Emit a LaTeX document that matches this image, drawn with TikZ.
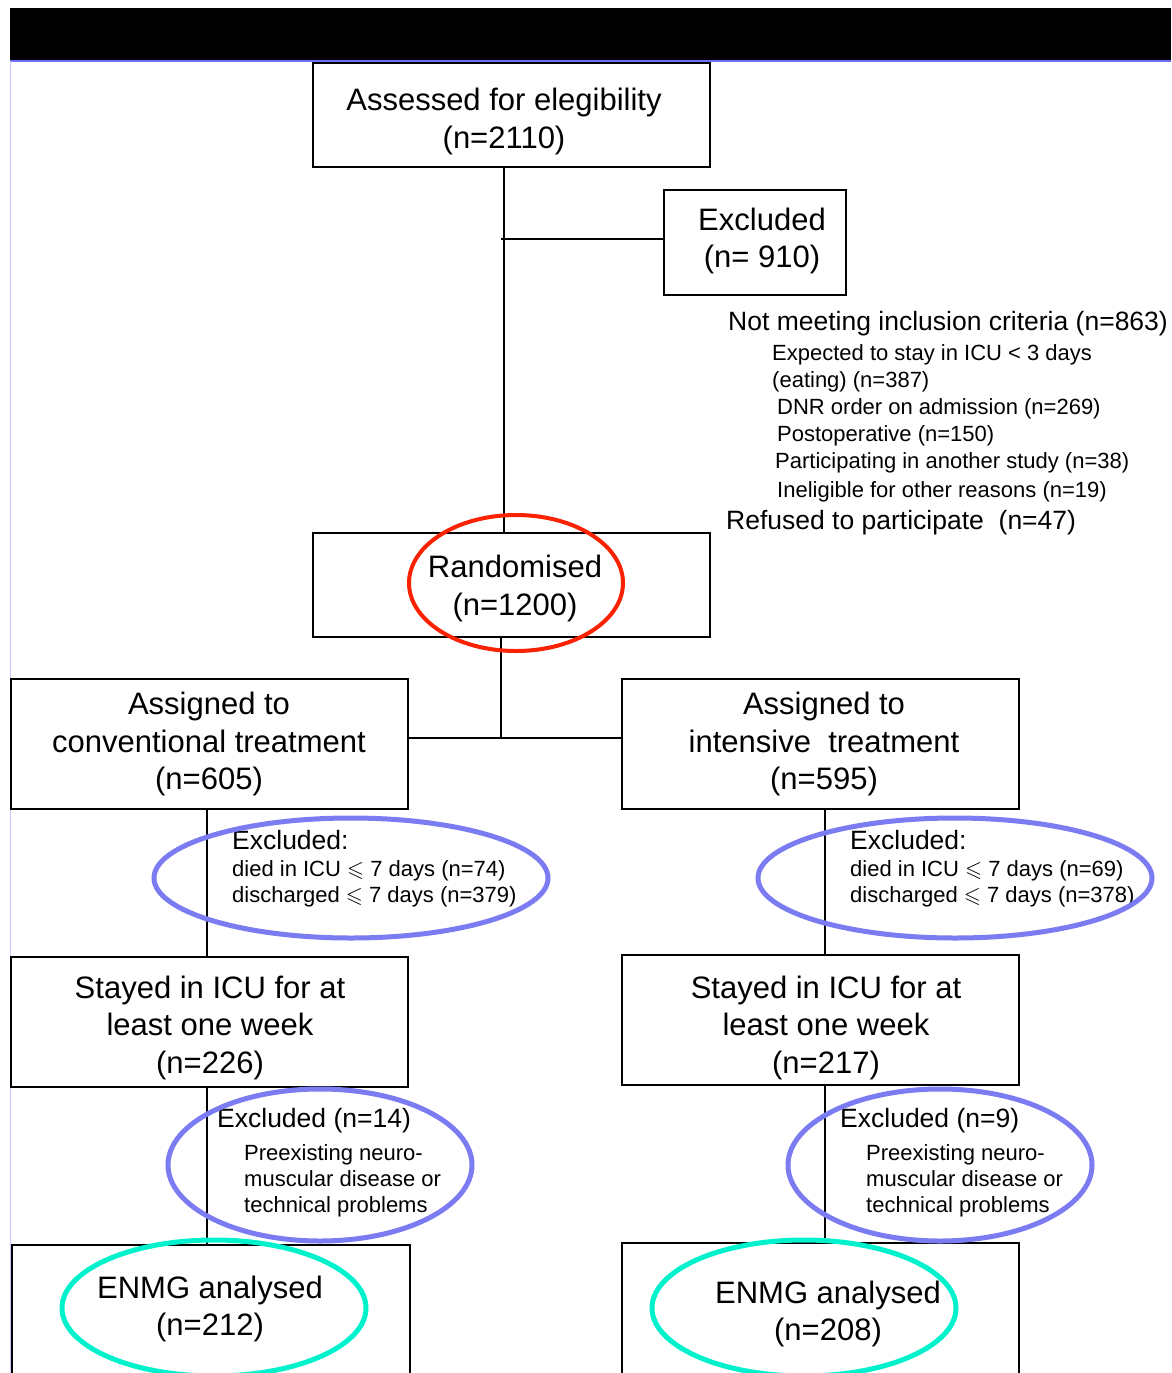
\documentclass[tikz,border=0pt]{standalone}
\usepackage{fontspec}
\usepackage{amssymb}
\setmainfont{Liberation Sans}
\definecolor{barblue}{RGB}{110,110,250}
\definecolor{edgeblue}{RGB}{200,200,255}
\definecolor{ellblue}{RGB}{124,124,242}
\definecolor{ellred}{RGB}{250,34,0}
\definecolor{ellcyan}{RGB}{0,242,205}
\begin{document}
\begin{tikzpicture}[x=1pt,y=-1pt,
  box/.style={draw, line width=2pt, inner sep=0pt},
  conn/.style={line width=2pt},
  big/.style={font=\fontsize{31}{37.5}\selectfont, align=center, inner sep=0pt},
  mid/.style={font=\fontsize{26.5}{32}\selectfont, anchor=base west, inner sep=0pt},
  small/.style={font=\fontsize{22}{26}\selectfont, anchor=base west, inner sep=0pt},
  blueell/.style={draw=ellblue, line width=5pt},
  redell/.style={draw=ellred, line width=4pt},
  cyanell/.style={draw=ellcyan, line width=5pt}]
\useasboundingbox (0,0) rectangle (1171,1373);
\clip (0,0) rectangle (1171,1373);
\fill[white] (0,0) rectangle (1171,1373);
% header bar
\fill[black] (10,8) rectangle (1171,60);
\draw[barblue, line width=2pt] (10,61) -- (1171,61);
\draw[edgeblue, line width=1pt] (10.5,61) -- (10.5,1373);

% boxes
\node[box, minimum width=397pt, minimum height=104pt] (assess) at (511.5,115) {};
\node[box, minimum width=182pt, minimum height=105pt] (excl) at (755,242.5) {};
\node[box, minimum width=397pt, minimum height=104pt] (rand) at (511.5,585) {};
\node[box, minimum width=397pt, minimum height=130pt] (convl) at (209.5,744) {};
\node[box, minimum width=397pt, minimum height=130pt] (intr) at (820.5,744) {};
\node[box, minimum width=397pt, minimum height=130pt] (stayl) at (209.5,1022) {};
\node[box, minimum width=397pt, minimum height=130pt] (stayr) at (820.5,1020) {};
\node[box, minimum width=398pt, minimum height=175pt] (enmgl) at (211,1332.5) {};
\node[box, minimum width=397pt, minimum height=177pt] (enmgr) at (820.5,1331.5) {};

% connectors
\draw[conn] (assess.south -| 504,0) -- (rand.north -| 504,0);
\coordinate (bj) at (501,239);
\draw[conn] (bj) -- (excl.west |- bj);
\coordinate (split) at (501,738);
\draw[conn] (rand.south -| split) -- (split);
\draw[conn] (convl.east |- split) -- (intr.west |- split);
\draw[conn] (convl.south -| 207,0) -- (stayl.north -| 207,0);
\draw[conn] (intr.south -| 825,0) -- (stayr.north -| 825,0);
\draw[conn] (stayl.south -| 207,0) -- (enmgl.north -| 207,0);
\draw[conn] (stayr.south -| 825,0) -- (enmgr.north -| 825,0);

% box texts
\node[big] (assesst) at (504,121.5) {Assessed for elegibility\\(n=2110)};
\node[big] (exclt) at (762,241) {Excluded\\(n= 910)};
\node[big] (randt) at (515,588.5) {Randomised\\(n=1200)};
\node[big] (convlt) at (209,744) {Assigned to\\conventional treatment\\(n=605)};
\node[big] (intrt) at (824,744) {Assigned to\\intensive\ \ treatment\\(n=595)};
\node[big] (staylt) at (210,1027.5) {Stayed in ICU for at\\least one week\\(n=226)};
\node[big] (stayrt) at (826,1027.5) {Stayed in ICU for at\\least one week\\(n=217)};
\node[big] (enmglt) at (210,1309) {ENMG analysed\\(n=212)};
\node[big] (enmgrt) at (828,1314) {ENMG analysed\\(n=208)};

% exclusion list
\node[mid] (nm) at (728,330) {Not meeting inclusion criteria (n=863)};
\node[small] (e1) at (772,360) {Expected to stay in ICU < 3 days};
\node[small] (e2) at (772,387) {(eating) (n=387)};
\node[small] (e3) at (777,414) {DNR order on admission (n=269)};
\node[small] (e4) at (777,441) {Postoperative (n=150)};
\node[small] (e5) at (775,468) {Participating in another study (n=38)};
\node[small] (e6) at (777,497) {Ineligible for other reasons (n=19)};
\node[mid] (rf) at (726,529) {Refused to participate\ \ (n=47)};

% first exclusions
\node[mid] (x1a) at (232,849.5) {Excluded:};
\node[small] (x1b) at (232,876) {died in ICU $\leqslant$ 7 days (n=74)};
\node[small] (x1c) at (232,902) {discharged $\leqslant$ 7 days (n=379)};
\node[mid] (x2a) at (850,849.5) {Excluded:};
\node[small] (x2b) at (850,876) {died in ICU $\leqslant$ 7 days (n=69)};
\node[small] (x2c) at (850,902) {discharged $\leqslant$ 7 days (n=378)};

% second exclusions
\node[mid] (y1a) at (217,1127.5) {Excluded (n=14)};
\node[small] (y1b) at (244,1160) {Preexisting neuro-};
\node[small] (y1c) at (244,1186) {muscular disease or};
\node[small] (y1d) at (244,1212) {technical problems};
\node[mid] (y2a) at (840,1127.5) {Excluded (n=9)};
\node[small] (y2b) at (866,1160) {Preexisting neuro-};
\node[small] (y2c) at (866,1186) {muscular disease or};
\node[small] (y2d) at (866,1212) {technical problems};

% highlight ellipses
\draw[redell] (516,583) ellipse [x radius=107pt, y radius=68pt];
\draw[blueell] (351,878) ellipse [x radius=197pt, y radius=60pt];
\draw[blueell] (955,878) ellipse [x radius=197pt, y radius=60pt];
\draw[blueell] (320,1165) ellipse [x radius=152pt, y radius=76pt];
\draw[blueell] (940,1165) ellipse [x radius=152pt, y radius=76pt];
\draw[cyanell] (214,1308) ellipse [x radius=152pt, y radius=68pt];
\draw[cyanell] (804,1308) ellipse [x radius=152pt, y radius=68pt];
\end{tikzpicture}
\end{document}
